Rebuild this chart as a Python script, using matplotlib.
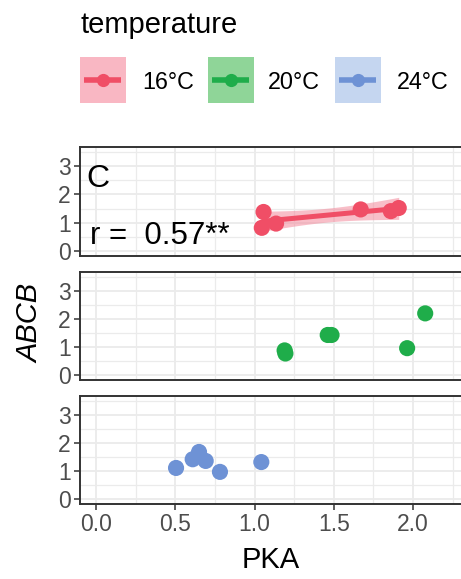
import numpy as np
import matplotlib
matplotlib.use("Agg")
import matplotlib.pyplot as plt
from matplotlib.patches import Rectangle
from matplotlib.lines import Line2D

plt.rcParams['font.family'] = ['Liberation Sans', 'DejaVu Sans']

# ---- data ----
temperatures = ["16°C", "20°C", "24°C"]
x16 = [1.057, 1.046, 1.136, 1.67, 1.86, 1.91]
y16 = [1.38, 0.82, 0.97, 1.47, 1.41, 1.52]
x20 = [1.19, 1.195, 1.462, 1.486, 1.963, 2.077]
y20 = [0.88, 0.77, 1.43, 1.43, 0.96, 2.20]
x24 = [0.505, 0.61, 0.65, 0.692, 0.782, 1.043]
y24 = [1.11, 1.42, 1.68, 1.36, 0.97, 1.32]
annot_r = "r =  0.57**"
panel_tag = "C"
xticks = [0.0, 0.5, 1.0, 1.5, 2.0]
yticks = [0, 1, 2, 3]
t_crit = 2.776  # t(0.975, df=4)

colors = ["#F04E66", "#1FAD4A", "#6E92D5"]
key_fill = ["#F9B7C3", "#8FD598", "#C5D6F0"]
band_color = "#F48A9C"

W, H = 461, 579
fig = plt.figure(figsize=(W / 100, H / 100), dpi=100)

def fx(px):
    return px / W

def fy(py):
    return 1 - py / H

panels = [(147, 256), (272, 380), (396, 504)]
left_px, right_px = 80, 472
xlim = ((left_px - 96) / 158.5, (right_px - 96) / 158.5)
ylim = (-0.175, 3.675)

grid_c = "#EBEBEB"
border_c = "#333333"
tick_fs = 16.5

data = [(x16, y16), (x20, y20), (x24, y24)]
axes = []
for i, ((top, bot), (xs, ys)) in enumerate(zip(panels, data)):
    ax = fig.add_axes([fx(left_px), fy(bot), (right_px - left_px) / W, (bot - top) / H])
    axes.append(ax)
    ax.set_xticks(xticks)
    ax.set_yticks(yticks)
    ax.set_xticks(np.arange(-0.25, 2.6, 0.25), minor=True)
    ax.set_yticks(np.arange(-0.5, 4.0, 0.5), minor=True)
    ax.grid(which='major', color=grid_c, lw=1.3, zorder=0)
    ax.grid(which='minor', color=grid_c, lw=0.9, zorder=0)
    ax.set_axisbelow(True)
    for s in ax.spines.values():
        s.set_color(border_c)
        s.set_linewidth(1.4)
    ax.tick_params(which='major', length=4.3, width=1.1, color=border_c,
                   labelsize=tick_fs, labelcolor="#4D4D4D", pad=2.5)
    ax.tick_params(which='minor', length=0)
    ax.set_yticklabels([str(v) for v in yticks])
    if i < 2:
        ax.tick_params(axis='x', which='major', length=0, labelbottom=False)
    else:
        ax.set_xticklabels([f"{v:.1f}" for v in xticks])
    ax.scatter(xs, ys, s=135, color=colors[i], edgecolors='none', zorder=4)
    ax.set_xlim(*xlim)
    ax.set_ylim(*ylim)

# regression with confidence band on the 16°C panel
ax = axes[0]
xa = np.array(x16)
ya = np.array(y16)
b, a = np.polyfit(xa, ya, 1)
xg = np.linspace(xa.min(), xa.max(), 80)
yg = a + b * xg
resid = ya - (a + b * xa)
s = np.sqrt(np.sum(resid ** 2) / (len(xa) - 2))
se = s * np.sqrt(1 / len(xa) + (xg - xa.mean()) ** 2 / np.sum((xa - xa.mean()) ** 2))
ax.fill_between(xg, yg - t_crit * se, yg + t_crit * se, color=band_color, alpha=0.55,
                lw=0, zorder=2)
ax.plot(xg, yg, color=colors[0], lw=3.6, zorder=3, solid_capstyle='butt')
ax.set_xlim(*xlim)
ax.set_ylim(*ylim)

# panel annotations
fig.text(fx(86), fy(187), panel_tag, fontsize=23, va='baseline', ha='left')
fig.text(fx(90), fy(244), annot_r, fontsize=22.5, va='baseline', ha='left')

# axis titles
fig.text(fx(270.5), fy(568), "PKA", fontsize=21, ha='center', va='baseline')
fig.text(fx(30), fy(323), "ABCB", fontsize=21, ha='center', va='center',
         rotation=90, style='italic')

# legend
fig.text(fx(80), fy(33), "temperature", fontsize=21, ha='left', va='baseline')
key_x = [80, 208, 335]
lab_x = [142.3, 268.3, 396.7]
for i in range(3):
    kx = key_x[i]
    fig.patches.append(Rectangle((fx(kx), fy(103)), 46 / W, 46 / H,
                                 transform=fig.transFigure, facecolor=key_fill[i],
                                 edgecolor='none'))
    fig.lines.append(Line2D([fx(kx + 4), fx(kx + 41)], [fy(80), fy(80)],
                            transform=fig.transFigure, color=colors[i], lw=4.0,
                            solid_capstyle='butt'))
    fig.lines.append(Line2D([fx(kx + 22.5)], [fy(80)], transform=fig.transFigure,
                            color=colors[i], marker='o', ms=9.5, mec='none', lw=0))
    fig.text(fx(lab_x[i]), fy(89.3), temperatures[i], fontsize=16.8, ha='left',
             va='baseline')

fig.savefig("out.png", dpi=100)
